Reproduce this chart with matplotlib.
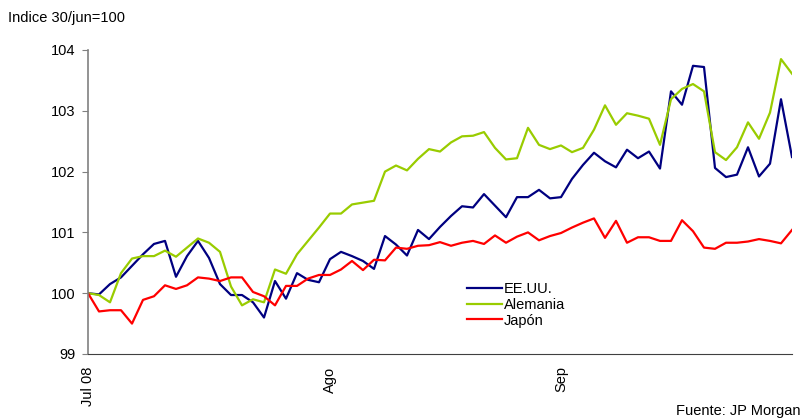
import matplotlib.pyplot as plt

plt.rcParams['font.family'] = ['Liberation Sans', 'DejaVu Sans']

# indice 30/jun=100, datos diarios (indice de dia habil)
eeuu = [100.00, 99.98, 100.15, 100.26, 100.45, 100.64, 100.81, 100.86, 100.27, 100.61,
        100.86, 100.58, 100.15, 99.97, 99.97, 99.85, 99.60, 100.20, 99.91, 100.33,
        100.22, 100.18, 100.56, 100.68, 100.61, 100.53, 100.40, 100.94, 100.80, 100.62,
        101.04, 100.89, 101.09, 101.27, 101.43, 101.41, 101.63, 101.44, 101.25, 101.58,
        101.58, 101.70, 101.56, 101.58, 101.88, 102.11, 102.31, 102.17, 102.07, 102.36,
        102.22, 102.33, 102.05, 103.32, 103.10, 103.74, 103.72, 102.06, 101.91, 101.95,
        102.40, 101.92, 102.13, 103.19, 102.24]
alemania = [100.00, 99.97, 99.85, 100.33, 100.57, 100.61, 100.61, 100.70, 100.60, 100.75,
            100.90, 100.83, 100.68, 100.11, 99.80, 99.90, 99.85, 100.39, 100.32, 100.64,
            100.86, 101.08, 101.31, 101.31, 101.46, 101.49, 101.52, 102.00, 102.10, 102.02,
            102.21, 102.37, 102.33, 102.48, 102.58, 102.59, 102.65, 102.39, 102.20, 102.22,
            102.72, 102.44, 102.37, 102.43, 102.32, 102.39, 102.69, 103.09, 102.77, 102.96,
            102.92, 102.87, 102.44, 103.19, 103.36, 103.44, 103.32, 102.32, 102.19, 102.40,
            102.81, 102.54, 102.97, 103.85, 103.61]
japon = [100.00, 99.70, 99.72, 99.72, 99.50, 99.89, 99.95, 100.13, 100.07, 100.13,
         100.26, 100.24, 100.20, 100.26, 100.26, 100.02, 99.95, 99.80, 100.12, 100.12,
         100.24, 100.30, 100.30, 100.39, 100.53, 100.38, 100.55, 100.54, 100.75, 100.73,
         100.78, 100.79, 100.84, 100.78, 100.83, 100.86, 100.81, 100.95, 100.83, 100.93,
         101.00, 100.87, 100.94, 100.99, 101.08, 101.16, 101.23, 100.91, 101.19, 100.83,
         100.92, 100.92, 100.86, 100.86, 101.20, 101.02, 100.75, 100.73, 100.83, 100.83,
         100.85, 100.89, 100.86, 100.82, 101.04]
tick_pos = [0, 22, 43]
tick_lab = ['Jul 08', 'Ago', 'Sep']

fig = plt.figure(figsize=(8.03, 4.18), dpi=100)
ax = fig.add_axes([88/803, 1-354/418, (792-88)/803, (354-50)/418])

x = range(len(eeuu))
ax.plot(x, eeuu, color='#000080', lw=1.6, label='EE.UU.')
ax.plot(x, alemania, color='#99CC00', lw=1.6, label='Alemania')
ax.plot(x, japon, color='#FF0000', lw=1.6, label='Japón')

ax.set_xlim(0, 64)
ax.set_ylim(99, 104)
ax.set_yticks([99, 100, 101, 102, 103, 104])
ax.set_xticks(tick_pos)
ax.set_xticklabels(tick_lab, rotation=90, fontsize=10.5)
ax.tick_params(axis='x', length=0, pad=9)
ax.tick_params(axis='y', length=4, color='#808080', labelsize=10.5, pad=5)
for s in ['top', 'right']:
    ax.spines[s].set_visible(False)
ax.spines['left'].set_color('#808080')
ax.spines['left'].set_linewidth(1.2)
ax.spines['bottom'].set_color('#404040')

ax.legend(loc='upper left', bbox_to_anchor=(467/803, 1-282/418), bbox_transform=fig.transFigure,
          frameon=False, fontsize=10.5, handlelength=2.4, handletextpad=0.15,
          labelspacing=0.12, borderpad=0, borderaxespad=0)

fig.text(8/803, 1-18/418, 'Indice 30/jun=100', fontsize=10.5, va='center', ha='left')
fig.text(801/803, 1-411/418, 'Fuente: JP Morgan', fontsize=10.5, va='center', ha='right')

plt.savefig('out.png', dpi=100)
